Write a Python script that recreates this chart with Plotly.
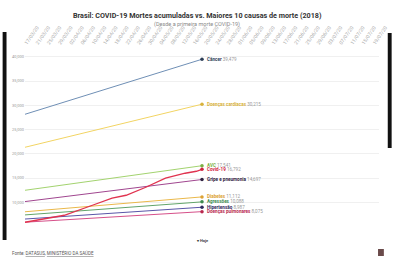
import plotly.graph_objects as go

# ---- data ----
start_date = "2020-03-17"
end_date = "2020-05-19"
axis_end = "2020-07-21"

causes = ["Câncer", "Doenças cardíacas", "AVC", "Gripe e pneumonia",
          "Diabetes", "Agressões", "Hipertensão", "Doenças pulmonares"]
start_vals = [28140, 21340, 12480, 10150, 8050, 7400, 6550, 5900]
end_vals = [39479, 30215, 17541, 14697, 11112, 10088, 8987, 8075]
line_colors = ["#6f8fb5", "#f2d463", "#a3d36f", "#a0468f",
               "#eab84a", "#62a46a", "#5a55a8", "#d6508a"]
label_colors = ["#2c3e57", "#d8b23a", "#7bb044", "#2e2240",
                "#dca234", "#3d8a4e", "#2e2a5e", "#b8284e"]

covid_dates = ["2020-03-17", "2020-03-31", "2020-04-10", "2020-04-17", "2020-04-22",
               "2020-04-29", "2020-05-06", "2020-05-13", "2020-05-17", "2020-05-19"]
covid_vals = [5890, 7330, 9390, 10840, 11450, 13100, 14960, 15990, 16400, 16792]
covid_name = "Covid-19"
covid_color = "#e0334f"
covid_label_color = "#d02442"

y_ticks = [10000, 15000, 20000, 25000, 30000, 35000, 40000]

title = "Brasil: COVID-19 Mortes acumuladas vs. Maiores 10 causas de morte (2018)"
subtitle = "(Desde a primeira morte COVID-19)"
source = "Fonte: <u>DATASUS</u>, <u>MINISTÉRIO DA SAÚDE</u>"

FONT = "Roboto"
W, H = 400, 260
L, R, T, B = 23, 13, 48, 15
pw, ph = W - L - R, H - T - B


def px(xp):
    return (xp - L) / pw


def py(yp):
    return (H - B - yp) / ph


fig = go.Figure()

for name, s, e, lc, mc in zip(causes, start_vals, end_vals, line_colors, label_colors):
    fig.add_trace(go.Scatter(x=[start_date, end_date], y=[s, e], mode="lines",
                             line=dict(color=lc, width=1), showlegend=False,
                             hoverinfo="skip"))
    fig.add_trace(go.Scatter(x=[end_date], y=[e], mode="markers",
                             marker=dict(color=mc, size=3.5), showlegend=False,
                             hoverinfo="skip"))
    fig.add_annotation(x=end_date, y=e, xanchor="left", yanchor="middle", xshift=3,
                       showarrow=False,
                       text=f"<b>{name}</b> <span style='color:#9a9a9a'>{e:,}</span>",
                       font=dict(family=FONT, size=4.6, color=mc))

fig.add_trace(go.Scatter(x=covid_dates, y=covid_vals, mode="lines",
                         line=dict(color=covid_color, width=1.3), showlegend=False,
                         hoverinfo="skip"))
fig.add_trace(go.Scatter(x=[covid_dates[-1]], y=[covid_vals[-1]], mode="markers",
                         marker=dict(color=covid_label_color, size=3.5), showlegend=False,
                         hoverinfo="skip"))
fig.add_annotation(x=covid_dates[-1], y=covid_vals[-1], xanchor="left", yanchor="middle",
                   xshift=3, showarrow=False,
                   text=f"<b>{covid_name}</b> <span style='color:#9a9a9a'>{covid_vals[-1]:,}</span>",
                   font=dict(family=FONT, size=4.6, color=covid_label_color))

# "Hoje" marker
fig.add_annotation(x=end_date, y=0.0, yref="paper", yanchor="bottom", showarrow=False,
                   text="<b>▾ Hoje</b>", font=dict(family=FONT, size=4, color="#444"))

fig.add_annotation(x=px(200), y=py(15), xref="paper", yref="paper", showarrow=False,
                   xanchor="center", yanchor="middle", text=f"<b>{title}</b>",
                   font=dict(family=FONT, size=7.2, color="#333"))
fig.add_annotation(x=px(200), y=py(24.5), xref="paper", yref="paper", showarrow=False,
                   xanchor="center", yanchor="middle", text=subtitle,
                   font=dict(family=FONT, size=5.5, color="#888"))
fig.add_annotation(x=px(8), y=py(252), xref="paper", yref="paper", showarrow=False,
                   xanchor="left", yanchor="middle", text=source,
                   font=dict(family=FONT, size=4.5, color="#555"))

# frame artifacts and logo
fig.add_shape(type="rect", xref="paper", yref="paper", x0=px(0), x1=px(4), y0=py(32), y1=py(240),
              fillcolor="#111", line_width=0, layer="above")
fig.add_shape(type="rect", xref="paper", yref="paper", x0=px(396), x1=px(400), y0=py(33), y1=py(148),
              fillcolor="#111", line_width=0, layer="above")
fig.add_shape(type="rect", xref="paper", yref="paper", x0=px(386), x1=px(392), y0=py(249), y1=py(256),
              fillcolor="#6a4a4a", line_width=0, layer="above")

fig.update_layout(
    width=W, height=H,
    margin=dict(l=L, r=R, t=T, b=B),
    paper_bgcolor="white", plot_bgcolor="white",
    font=dict(family=FONT),
    xaxis=dict(type="date", side="top", range=[start_date, axis_end],
               tick0=start_date, dtick=4 * 86400000, tickformat="%d/%m/%y",
               tickangle=-55, tickfont=dict(size=5, color="#aaa"),
               showgrid=False, zeroline=False, showline=False, ticks=""),
    yaxis=dict(range=[1200, 41800], tickvals=y_ticks, tickformat=",",
               tickfont=dict(size=4, color="#999"), showgrid=True,
               gridcolor="#f0f0f0", gridwidth=0.6, zeroline=False, showline=False,
               ticks=""),
)

fig.write_html("out.html")
